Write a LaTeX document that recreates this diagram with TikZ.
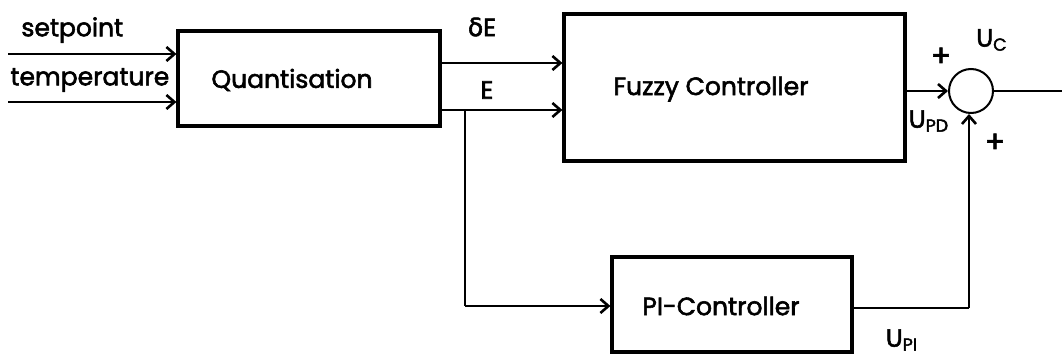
\documentclass[tikz,border=0pt]{standalone}
\usepackage{fontspec}
\setmainfont{Poppins}[UprightFeatures={FakeBold=2.2}]
\newfontfamily\grk{DejaVu Sans}[UprightFeatures={FakeBold=2.2}]
\usetikzlibrary{arrows.meta}
\tikzset{
  px/.style={x=0.5pt,y=-0.5pt},
  blk/.style={draw,line width=1.6pt,rectangle,inner sep=0pt},
  lbl/.style={inner sep=0pt,font=\fontsize{12.5}{14}\selectfont},
  sign/.style={inner sep=0pt,font=\fontsize{15}{16}\selectfont},
  wire/.style={line width=1pt},
  arr/.style={wire,-{Straight Barb[length=4pt,width=7pt,line width=1.3pt]}},
  sumnode/.style={draw,circle,line width=1pt,minimum size=22pt,inner sep=0pt}
}
\begin{document}
\begin{tikzpicture}[px]
\useasboundingbox (0,0) rectangle (1062,354);
% blocks
\node[blk,minimum width=131pt,minimum height=47.5pt] (quant) at (309,78.5) {};
\node[blk,minimum width=170.5pt,minimum height=73.5pt] (fuzzy) at (734.5,87.5) {};
\node[blk,minimum width=120pt,minimum height=47.5pt] (pi) at (732,304.5) {};
\node[sumnode] (sum) at (971,91) {};
% block labels
\node[lbl] (quantl) at (292,80) {Quantisation};
\node[lbl] (fuzzyl) at (711,89) {Fuzzy Controller};
\node[lbl] (pil) at (721,306) {PI-Controller};
% inputs
\coordinate (spin) at (8,54);
\coordinate (tpin) at (8,102);
\draw[arr] (spin) -- (spin -| quant.west);
\draw[arr] (tpin) -- (tpin -| quant.west);
\node[lbl,anchor=west] (spl) at (21,30) {setpoint};
\node[lbl,anchor=west] (tpl) at (10,80) {temperature};
% quantisation outputs
\coordinate (dEy) at (0,63);
\coordinate (Ey) at (0,110);
\draw[arr] (quant.east |- dEy) -- (fuzzy.west |- dEy);
\draw[arr] (quant.east |- Ey) -- (fuzzy.west |- Ey);
\node[lbl] (dEl) at (482,27) {{\grk δ}E};
\node[lbl] (El) at (487,90) {E};
% branch to PI
\coordinate (br) at (465,110);
\coordinate (brd) at (465,306);
\draw[wire] (br) -- (brd);
\draw[arr] (brd) -- (brd -| pi.west);
% fuzzy to sum
\draw[arr] (fuzzy.east |- sum) -- (sum.west);
% PI to sum
\coordinate (pio) at (969,308);
\draw[wire] (pi.east |- pio) -- (pio);
\draw[arr] (pio) -- (sum.south -| pio);
% output
\coordinate (out) at (1062,91);
\draw[wire] (sum.east) -- (out);
% signs and signal names
\node[sign] (p1) at (941,57) {+};
\node[sign] (p2) at (995,143) {+};
\node[lbl] (ucl) at (992,40) {U\textsubscript{C}};
\node[lbl] (updl) at (929,121) {U\textsubscript{PD}};
\node[lbl] (upil) at (902,340) {U\textsubscript{PI}};
\end{tikzpicture}
\end{document}
